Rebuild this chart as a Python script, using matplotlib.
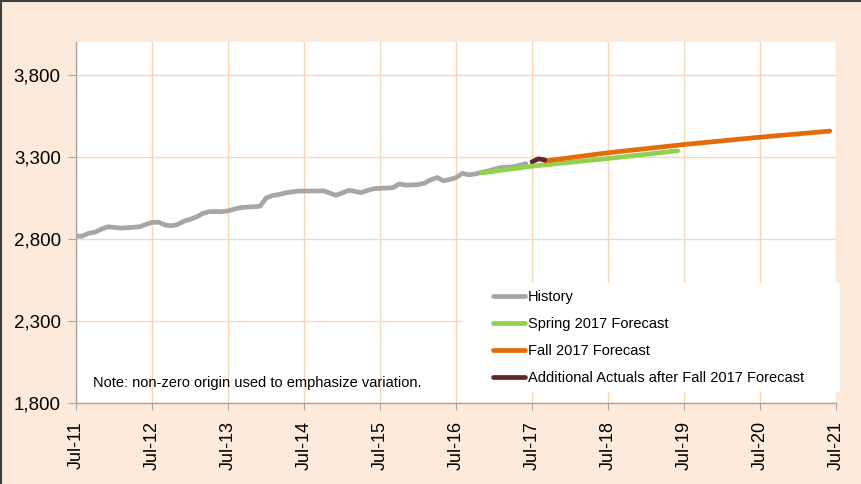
"""housing-stock style chart: history, two forecasts and extra actuals."""
import matplotlib
matplotlib.use("Agg")
import matplotlib.pyplot as plt
import matplotlib.dates as mdates
import matplotlib.ticker as mticker
import pandas as pd
from matplotlib.lines import Line2D
from matplotlib.patches import Rectangle

plt.rcParams["font.family"] = ["Liberation Sans", "DejaVu Sans"]

# monthly history, Jul-11 .. Jun-17
history_start = "2011-07-01"
history = [
    2817, 2817, 2835, 2841, 2860, 2874, 2870, 2866, 2868, 2871, 2874, 2888,
    2900, 2902, 2885, 2880, 2888, 2908, 2920, 2935, 2955, 2966, 2967, 2966,
    2971, 2982, 2991, 2994, 2996, 2999, 3050, 3065, 3070, 3080, 3086, 3091,
    3092, 3092, 3092, 3093, 3080, 3066, 3080, 3096, 3090, 3082, 3095, 3106,
    3108, 3110, 3112, 3135, 3128, 3129, 3131, 3140, 3160, 3174, 3154, 3162,
    3174, 3200, 3190, 3196, 3206, 3214, 3225, 3235, 3237, 3239, 3248, 3259,
]

spring_dates = ["2016-11-01", "2017-07-01", "2018-07-01", "2019-06-01"]
spring_values = [3202, 3243, 3290, 3337]

fall_dates = ["2017-09-01", "2018-07-01", "2019-07-01", "2020-07-01", "2021-06-01"]
fall_values = [3275, 3325, 3375, 3420, 3457]

actual_dates = ["2017-07-01", "2017-08-01", "2017-09-01"]
actual_values = [3270, 3288, 3281]

labels = [
    "History",
    "Spring 2017 Forecast",
    "Fall 2017 Forecast",
    "Additional Actuals after Fall 2017 Forecast",
]
colors = ["#A6A6A6", "#92D050", "#E36C09", "#632523"]
note = "Note: non-zero origin used to emphasize variation."

bg = "#FDEADA"
grid_c = "#FCD5B4"
axis_c = "#A6A6A6"

fig = plt.figure(figsize=(8.61, 4.84), dpi=100, facecolor=bg)
ax = fig.add_axes([76 / 861, 1 - 403 / 484, 760 / 861, 361 / 484])
ax.set_facecolor("white")

hist_dates = pd.date_range(history_start, periods=len(history), freq="MS")
series = [
    (hist_dates, history),
    (pd.to_datetime(spring_dates), spring_values),
    (pd.to_datetime(fall_dates), fall_values),
    (pd.to_datetime(actual_dates), actual_values),
]
for (d, v), lab, c in zip(series, labels, colors):
    ax.plot(d, v, color=c, lw=3.4, label=lab, solid_capstyle="round",
            solid_joinstyle="round", zorder=3)

ax.set_ylim(1800, 4000)
ax.set_yticks(range(1800, 4000, 500))
ax.yaxis.set_major_formatter(mticker.StrMethodFormatter("{x:,.0f}"))
ax.set_xlim(pd.Timestamp("2011-07-01"), pd.Timestamp("2021-07-01"))
ax.xaxis.set_major_locator(mdates.MonthLocator(bymonth=7))
ax.xaxis.set_major_formatter(mdates.DateFormatter("%b-%y"))

ax.grid(True, color=grid_c, lw=1.0, zorder=0)
ax.set_axisbelow(True)
for s in ["top", "right"]:
    ax.spines[s].set_visible(False)
for s in ["left", "bottom"]:
    ax.spines[s].set_color(axis_c)
    ax.spines[s].set_linewidth(1.0)

ax.tick_params(axis="y", labelsize=13.5, length=6, color=axis_c, pad=5)
ax.tick_params(axis="x", labelsize=13, length=5, color=axis_c, pad=8,
               labelrotation=90)

# white panel behind legend hides gridlines
ax.add_patch(Rectangle((0.509, 0.030), 0.496, 0.302, transform=ax.transAxes,
                       facecolor="white", edgecolor="none", zorder=1,
                       clip_on=False))
ax.legend(loc="upper left", bbox_to_anchor=(0.549, 0.314), frameon=False,
          fontsize=10.5, handlelength=2.2, handletextpad=0.2, labelspacing=0.9,
          borderpad=0, borderaxespad=0)

ax.text(0.022, 0.055, note, transform=ax.transAxes, fontsize=10.5,
        va="center", ha="left", zorder=2)

# outer frame, top and left edges
fig.add_artist(Line2D([0, 1], [0.998, 0.998], color="#404040", lw=1.5,
                      transform=fig.transFigure))
fig.add_artist(Line2D([0.001, 0.001], [0, 1], color="#404040", lw=1.5,
                      transform=fig.transFigure))

fig.savefig("out.png", dpi=100, facecolor=bg)
